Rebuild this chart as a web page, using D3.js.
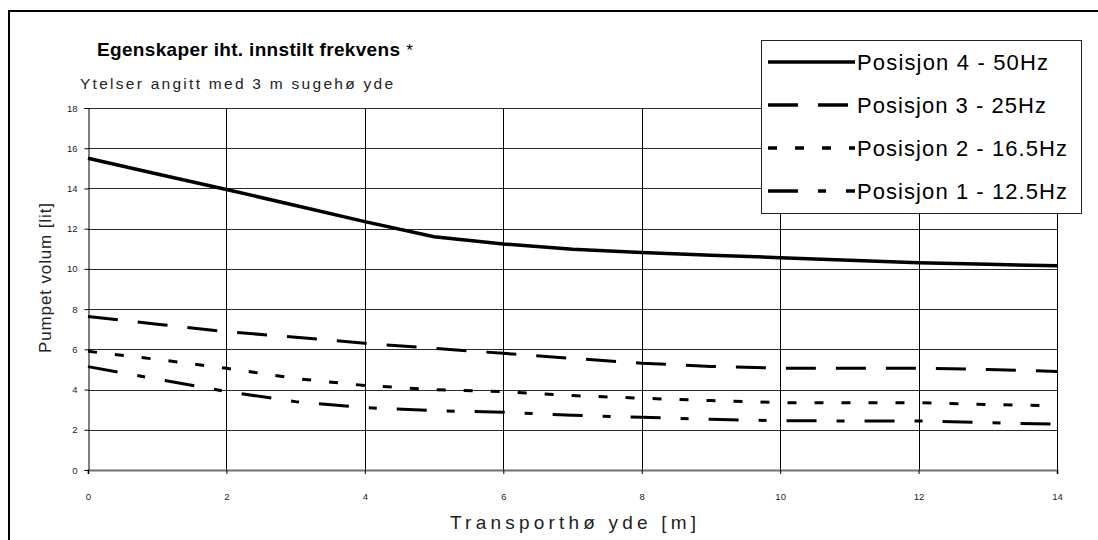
<!DOCTYPE html>
<html><head><meta charset="utf-8">
<script src="https://cdn.jsdelivr.net/npm/d3@7"></script>
<style>html,body{margin:0;padding:0;background:#fff;overflow:hidden}</style>
</head><body>
<svg id="c" width="1098" height="540"></svg>
<script>
// ---- data ----
const distances = [0,1,2,3,4,5,6,7,8,9,10,11,12,13,14];
const pos4 = [15.5,14.72,13.95,13.15,12.35,11.6,11.24,10.98,10.81,10.68,10.56,10.43,10.31,10.23,10.15];
const pos3 = [7.63,7.25,6.88,6.6,6.3,6.05,5.8,5.55,5.31,5.15,5.06,5.06,5.06,5.0,4.9];
const pos2 = [5.9,5.5,5.06,4.55,4.2,4.0,3.9,3.7,3.57,3.45,3.35,3.35,3.35,3.25,3.2];
const pos1 = [5.14,4.52,3.9,3.4,3.1,2.95,2.87,2.72,2.62,2.52,2.45,2.44,2.44,2.35,2.28];
const seriesNames = ["Posisjon 4 - 50Hz","Posisjon 3 - 25Hz","Posisjon 2 - 16.5Hz","Posisjon 1 - 12.5Hz"];
const xTicks = [0,2,4,6,8,10,12,14];
const yTicks = [0,2,4,6,8,10,12,14,16,18];
const titleText = "Egenskaper iht. innstilt frekvens";
const subtitleText = "Ytelser angitt med 3 m sugehø yde";
const xTitle = "Transporthø yde [m]";
const yTitle = "Pumpet volum [lit]";

// ---- styles ----
const dashes = [null, "30,20", "9,18", "30,20,8,20"];
const allSeries = [pos4,pos3,pos2,pos1];
const font = "'Liberation Sans', Arial, sans-serif";

const svg = d3.select("#c");
svg.append("rect").attr("width",1098).attr("height",540).attr("fill","#fff");
// outer frame (cut off at right/bottom)
svg.append("rect").attr("x",9).attr("y",11).attr("width",1200).attr("height",700)
  .attr("fill","none").attr("stroke","#000").attr("stroke-width",2);

const x = d3.scaleLinear().domain([0,14]).range([88,1057]);
const y = d3.scaleLinear().domain([0,18]).range([470,108]);

// grid
const g = svg.append("g");
g.selectAll("line.h").data(yTicks.filter(d=>d>0)).join("line")
  .attr("x1",x(0)).attr("x2",x(14)).attr("y1",d=>Math.round(y(d))+0.5).attr("y2",d=>Math.round(y(d))+0.5)
  .attr("stroke","#2a2a2a").attr("stroke-width",1);
g.selectAll("line.v").data(xTicks.filter(d=>d>0)).join("line")
  .attr("x1",d=>Math.round(x(d))+0.5).attr("x2",d=>Math.round(x(d))+0.5).attr("y1",y(18)).attr("y2",y(0))
  .attr("stroke","#000").attr("stroke-width",1);

// axes
const ax = svg.append("g").attr("transform",`translate(0,${Math.round(y(0))})`)
  .call(d3.axisBottom(x).tickValues(xTicks).tickSize(4).tickPadding(19).tickFormat(d3.format("d")));
ax.select(".domain").attr("stroke","#707070").attr("stroke-width",2);
ax.selectAll(".tick line").attr("stroke","#000");
ax.selectAll("text").attr("font-family",font).attr("font-size",9.5).attr("fill","#222");

const ay = svg.append("g").attr("transform",`translate(${Math.round(x(0))+0.5},0)`)
  .call(d3.axisLeft(y).tickValues(yTicks).tickSize(4).tickPadding(7).tickFormat(d3.format("d")));
ay.select(".domain").attr("stroke","#000");
ay.selectAll(".tick line").attr("stroke","#000");
ay.selectAll("text").attr("font-family",font).attr("font-size",9.5).attr("fill","#222");

// lines
const line = d3.line().x((d,i)=>x(distances[i])).y(d=>y(d));
allSeries.forEach((s,k)=>{
  svg.append("path").datum(s).attr("d",line).attr("fill","none")
    .attr("stroke","#000").attr("stroke-width",k===0?3.5:3)
    .attr("stroke-dasharray",dashes[k]);
});

// titles
const t = svg.append("text").attr("x",97).attr("y",56).attr("font-family",font)
  .attr("fill","#000");
t.append("tspan").attr("font-weight","bold").attr("font-size",19)
  .attr("textLength",303).attr("lengthAdjust","spacing").text(titleText);
t.append("tspan").attr("font-size",17).attr("dx",6).text("*");

svg.append("text").attr("x",80).attr("y",89).attr("font-family",font).attr("font-size",15.5)
  .attr("fill","#222").attr("textLength",313).attr("lengthAdjust","spacing").text(subtitleText);

svg.append("text").attr("x",573).attr("y",529).attr("text-anchor","middle").attr("font-family",font)
  .attr("font-size",19).attr("fill","#222").attr("textLength",246).attr("lengthAdjust","spacing").text(xTitle);

svg.append("text").attr("transform","translate(51,278) rotate(-90)").attr("text-anchor","middle")
  .attr("font-family",font).attr("font-size",17).attr("fill","#222")
  .attr("textLength",150).attr("lengthAdjust","spacing").text(yTitle);

// legend
const lg = svg.append("g");
lg.append("rect").attr("x",761.5).attr("y",40.5).attr("width",320).attr("height",173)
  .attr("fill","#fff").attr("stroke","#222").attr("stroke-width",1);
const rowY = [62,105,148,191];
const textW = [191,189,210,210];
seriesNames.forEach((n,k)=>{
  lg.append("line").attr("x1",768).attr("x2",855).attr("y1",rowY[k]).attr("y2",rowY[k])
    .attr("stroke","#000").attr("stroke-width",3.5).attr("stroke-dasharray",dashes[k]);
  lg.append("text").attr("x",857).attr("y",rowY[k]+8).attr("font-family",font).attr("font-size",22)
    .attr("fill","#000").attr("textLength",textW[k]).attr("lengthAdjust","spacing").text(n);
});
</script>
</body></html>
